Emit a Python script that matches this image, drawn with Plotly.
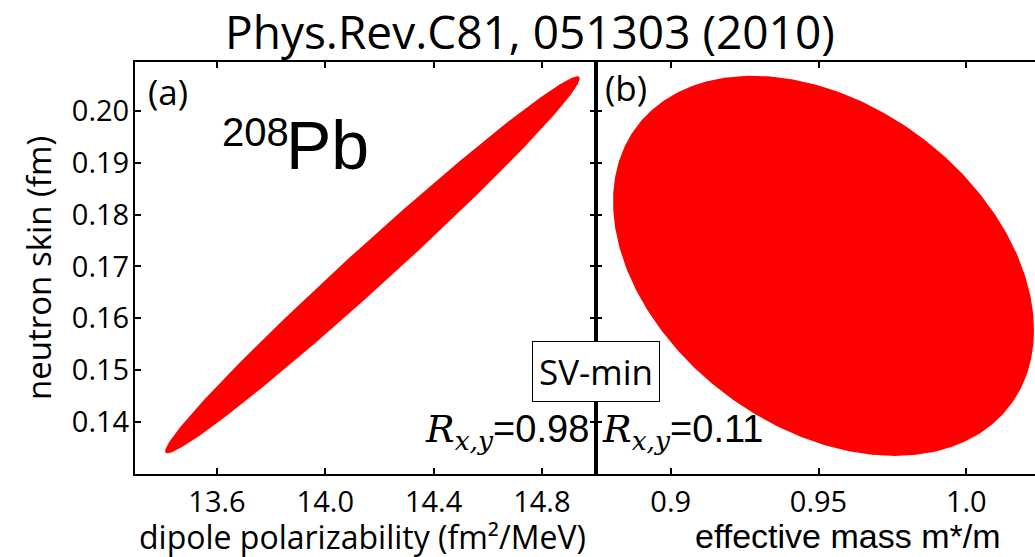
import numpy as np
import plotly.graph_objects as go

W, H = 1035, 557

# ---- data ----
title_text = "Phys.Rev.C81, 051303 (2010)"
y_ticks = [0.14, 0.15, 0.16, 0.17, 0.18, 0.19, 0.20]
y_ticklabels = ["0.14", "0.15", "0.16", "0.17", "0.18", "0.19", "0.20"]
xa_ticks = [13.6, 14.0, 14.4, 14.8]
xa_ticklabels = ["13.6", "14.0", "14.4", "14.8"]
xb_ticks = [0.90, 0.95, 1.00]
xb_ticklabels = ["0.9", "0.95", "1.0"]

# covariance ellipses: centre, half extent along x and y, correlation of the outline
ellipse_a_center = [14.174, 0.1703]
ellipse_a_halfspan = [0.766, 0.0364]
ellipse_a_corr = 0.989
ellipse_b_center = [0.9517, 0.1701]
ellipse_b_halfspan = [0.0712, 0.0367]
ellipse_b_corr = -0.338

corr_labels = ["0.98", "0.11"]

# ---- layout geometry (pixels) ----
plot_left, plot_mid, plot_right = 135, 596, 1035
plot_top, plot_bottom = 61.5, 473.5


def px(x):
    return x / W


def py(y):
    return 1 - y / H


def ellipse(center, half, corr, n=400):
    t = np.linspace(0, 2 * np.pi, n)
    d = np.arccos(corr)
    return center[0] + half[0] * np.cos(t), center[1] + half[1] * np.cos(t - d)


fig = go.Figure()
xa, ya = ellipse(ellipse_a_center, ellipse_a_halfspan, ellipse_a_corr)
xb, yb = ellipse(ellipse_b_center, ellipse_b_halfspan, ellipse_b_corr)
fig.add_trace(go.Scatter(x=xa, y=ya, fill="toself", fillcolor="#ff0000",
                         line=dict(width=0, color="#ff0000"), mode="lines",
                         xaxis="x", yaxis="y", hoverinfo="skip"))
fig.add_trace(go.Scatter(x=xb, y=yb, fill="toself", fillcolor="#ff0000",
                         line=dict(width=0, color="#ff0000"), mode="lines",
                         xaxis="x2", yaxis="y2", hoverinfo="skip"))

tickfont = dict(family="Open Sans", size=29, color="black")
axis_common = dict(showline=True, linecolor="black", linewidth=2, ticks="inside",
                   ticklen=6, tickwidth=2, tickcolor="black", showgrid=False,
                   zeroline=False, tickfont=tickfont)

# x range of right panel: pixel scale derived from ticks 0.9 and 1.0
xb_scale = (966.3 - 670.7) / 0.1
xb_min = 0.9 - (670.7 - plot_mid) / xb_scale
xb_max = 1.0 + (plot_right - 966.3) / xb_scale

fig.update_layout(
    width=W, height=H, margin=dict(l=0, r=0, t=0, b=0),
    paper_bgcolor="white", plot_bgcolor="white", showlegend=False,
    xaxis=dict(domain=[px(plot_left), px(plot_mid)], range=[13.297, 15.0],
               tickvals=xa_ticks, ticktext=xa_ticklabels, mirror="ticks",
               anchor="y", ticklabelstandoff=2, **axis_common),
    xaxis2=dict(domain=[px(plot_mid), 1.0], range=[xb_min, xb_max],
                tickvals=xb_ticks, ticktext=xb_ticklabels, mirror="ticks",
                anchor="y2", ticklabelstandoff=2, **axis_common),
    yaxis=dict(domain=[py(plot_bottom), py(plot_top)], range=[0.13, 0.20956],
               tickvals=y_ticks, ticktext=y_ticklabels, mirror="ticks",
               anchor="x", ticklabelstandoff=-2, **axis_common),
    yaxis2=dict(domain=[py(plot_bottom), py(plot_top)], matches="y",
                tickvals=y_ticks, showticklabels=False, anchor="x2",
                **axis_common),
)

ann = []
ann.append(dict(text=title_text, x=px(530), y=py(31), xref="paper", yref="paper",
                showarrow=False, xanchor="center", yanchor="middle",
                font=dict(family="Open Sans", size=46, color="black")))
ann.append(dict(text="neutron skin (fm)", x=px(38), y=py(268), xref="paper", yref="paper",
                showarrow=False, textangle=-90, xanchor="center", yanchor="middle",
                font=dict(family="Open Sans", size=33, color="black")))
ann.append(dict(text="dipole polarizability (fm²/MeV)", x=px(362), y=py(536),
                xref="paper", yref="paper", showarrow=False, xanchor="center",
                yanchor="middle", font=dict(family="Open Sans", size=32, color="black")))
ann.append(dict(text="effective mass m*/m", x=px(847), y=py(536),
                xref="paper", yref="paper", showarrow=False, xanchor="center",
                yanchor="middle", font=dict(family="Liberation Sans", size=34, color="black")))
ann.append(dict(text="(a)", x=px(146), y=py(91), xref="paper", yref="paper",
                showarrow=False, xanchor="left", yanchor="middle",
                font=dict(family="Open Sans", size=35, color="black")))
ann.append(dict(text="(b)", x=px(603), y=py(88), xref="paper", yref="paper",
                showarrow=False, xanchor="left", yanchor="middle",
                font=dict(family="Open Sans", size=35, color="black")))
ann.append(dict(text="208", x=px(220), y=py(132), xref="paper", yref="paper",
                showarrow=False, xanchor="left", yanchor="middle",
                font=dict(family="Liberation Sans", size=40, color="black")))
ann.append(dict(text="Pb", x=px(284), y=py(145), xref="paper", yref="paper",
                showarrow=False, xanchor="left", yanchor="middle",
                font=dict(family="Liberation Sans", size=68, color="black")))
ann.append(dict(text="SV-min", x=px(595.5), y=py(371), xref="paper", yref="paper",
                showarrow=False, xanchor="center", yanchor="middle",
                bgcolor="white", bordercolor="black", borderwidth=1, borderpad=6,
                font=dict(family="Open Sans", size=35, color="black")))
rlabel = "<span style='font-family:\"DejaVu Serif\"'><i>R</i><sub><i>x,y</i></sub></span>="
ann.append(dict(text=rlabel + corr_labels[0], x=px(591), y=py(432), xref="paper", yref="paper",
                showarrow=False, xanchor="right", yanchor="middle",
                font=dict(family="Liberation Sans", size=38, color="black")))
ann.append(dict(text=rlabel + corr_labels[1], x=px(600), y=py(432), xref="paper", yref="paper",
                showarrow=False, xanchor="left", yanchor="middle",
                font=dict(family="Liberation Sans", size=38, color="black")))
fig.update_layout(annotations=ann)

fig.write_html("out.html")
